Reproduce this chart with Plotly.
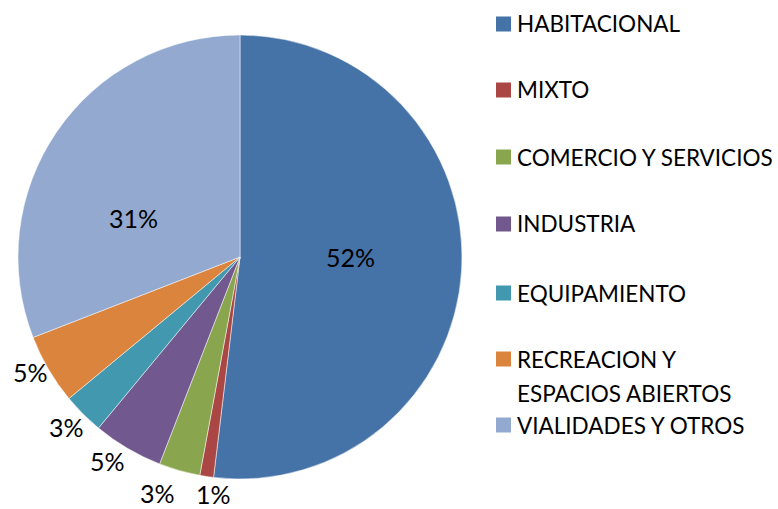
import math
import plotly.graph_objects as go

categories = ["HABITACIONAL", "MIXTO", "COMERCIO Y SERVICIOS", "INDUSTRIA",
              "EQUIPAMIENTO", "RECREACION Y<br>ESPACIOS ABIERTOS", "VIALIDADES Y OTROS"]
values = [51.9, 1.0, 3.0, 5.1, 3.0, 5.1, 30.9]
colors = ["#4572A7", "#AA4643", "#89A54E", "#71588F", "#4198AF", "#DB843D", "#93A9CF"]
label_inside = [True, False, False, False, False, False, True]
# pixel nudges for percentage labels (layout only)
label_nudge = [(0, -7), (10, -3), (-16, 2), (-9, -6), (-2, -2), (0, -8), (-15, 24)]

W, H = 778, 509
FONT = "Lato, 'Open Sans', sans-serif"
CX, CY, R = 240, 257, 222  # pie centre/radius in pixels (layout)

fig = go.Figure()
fig.add_trace(go.Pie(
    labels=categories, values=values, sort=False, direction="clockwise", rotation=0,
    marker=dict(colors=colors, line=dict(color="white", width=0.5)),
    textinfo="none", showlegend=False, hoverinfo="label+percent",
    domain=dict(x=[(CX - R) / W, (CX + R) / W], y=[(H - CY - R) / H, (H - CY + R) / H]),
))

# percentage labels placed from the data (mid-angle of each slice)
total = sum(values)
cum = 0.0
for v, inside, (nx, ny) in zip(values, label_inside, label_nudge):
    mid = (cum + v / 2) / total * 2 * math.pi
    cum += v
    rho = 0.5 * R if inside else 1.095 * R
    px = CX + rho * math.sin(mid) + nx
    py = CY - rho * math.cos(mid) + ny
    fig.add_annotation(x=px / W, y=(H - py) / H, xref="paper", yref="paper",
                       text=f"{round(v / total * 100)}%", showarrow=False,
                       xanchor="center", yanchor="middle",
                       font=dict(family=FONT, size=25, color="black"))

# custom legend
row_y = [24, 90, 157, 224, 293, 359, 425]
for cat, col, y in zip(categories, colors, row_y):
    fig.add_shape(type="rect", xref="paper", yref="paper",
                  x0=496 / W, x1=511 / W, y0=(H - y - 7.5) / H, y1=(H - y + 7.5) / H,
                  fillcolor=col, line=dict(width=0))
    for i, line in enumerate(cat.split("<br>")):
        fig.add_annotation(x=515 / W, y=(H - y - 34 * i) / H, xref="paper", yref="paper",
                           text=line, showarrow=False, xanchor="left", yanchor="middle",
                           align="left", font=dict(family=FONT, size=22.5, color="black"))

fig.update_layout(width=W, height=H, margin=dict(l=0, r=0, t=0, b=0),
                  paper_bgcolor="white", plot_bgcolor="white")
fig.write_html("out.html", post_script="document.body.style.margin='0';",
               config={"displayModeBar": False})
